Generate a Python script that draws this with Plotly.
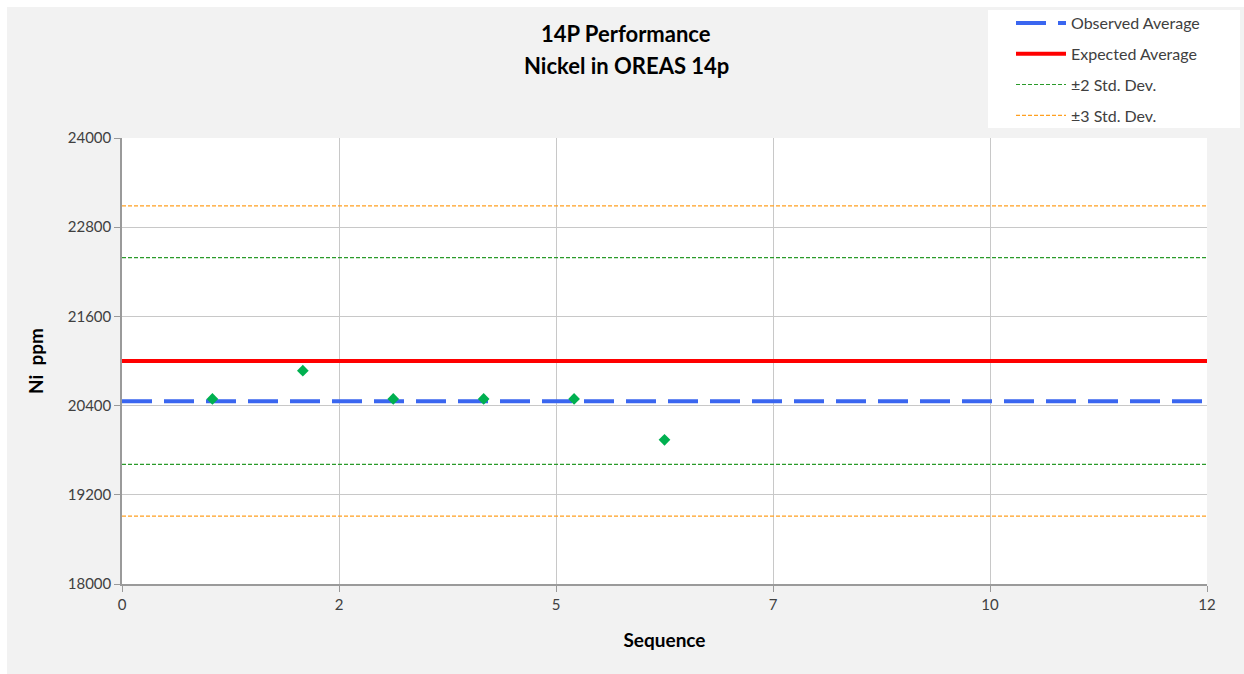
import plotly.graph_objects as go

# ---- data ----
sequence = [1, 2, 3, 4, 5, 6]
ni_ppm = [20490, 20870, 20490, 20490, 20490, 19940]
observed_average = 20460
expected_average = 21000
std_dev = 696
x_range = [0, 12]
x_tick_vals = [0, 2.4, 4.8, 7.2, 9.6, 12]
x_tick_text = ["0", "2", "5", "7", "10", "12"]
y_tick_vals = [18000, 19200, 20400, 21600, 22800, 24000]
title_lines = ["14P Performance", "Nickel in OREAS 14p"]

FONT = "Lato"
W, H = 1244, 674
L, R, T, B = 122, 37, 138, 90
pw, ph = W - L - R, H - T - B

def px_x(px):
    return (px - L) / pw

def px_y(py):
    return (H - B - py) / ph

fig = go.Figure()

fig.add_trace(go.Scatter(
    x=[x_range[0], x_range[1]], y=[observed_average, observed_average],
    mode="lines", name="Observed Average",
    line=dict(color="#3a66f0", width=4, dash="30px,12px"),
    legendgroup="a", hoverinfo="skip"))

fig.add_trace(go.Scatter(
    x=[x_range[0], x_range[1]], y=[expected_average, expected_average],
    mode="lines", name="Expected Average",
    line=dict(color="#ff0000", width=4),
    legendgroup="b", hoverinfo="skip"))

for k, name, color, grp in [(2, "±2 Std. Dev.", "#2a9a2a", "c"),
                            (3, "±3 Std. Dev.", "#ffa020", "d")]:
    for i, sign in enumerate([1, -1]):
        yv = expected_average + sign * k * std_dev
        fig.add_trace(go.Scatter(
            x=[x_range[0], x_range[1]], y=[yv, yv],
            mode="lines", name=name, showlegend=(i == 0),
            line=dict(color=color, width=1.2, dash="4px,2px"),
            legendgroup=grp, hoverinfo="skip"))

fig.add_trace(go.Scatter(
    x=sequence, y=ni_ppm, mode="markers", name="Ni",
    marker=dict(symbol="diamond", color="#00b050", size=9),
    showlegend=False, legendgroup="e"))

annotations = []
for line_text, ypix in zip(title_lines, [33, 66]):
    annotations.append(dict(
        text="<b>" + line_text + "</b>", xref="paper", yref="paper",
        x=px_x(626), y=px_y(ypix), xanchor="center", yanchor="middle",
        showarrow=False, font=dict(family=FONT, size=22, color="black")))

fig.update_layout(
    width=W, height=H,
    margin=dict(l=L, r=R, t=T, b=B, autoexpand=False),
    paper_bgcolor="white",
    plot_bgcolor="white",
    font=dict(family=FONT, size=14, color="#595959"),
    annotations=annotations,
    showlegend=True,
    legend=dict(
        x=px_x(1011), y=px_y(6), xanchor="left", yanchor="top",
        bgcolor="rgba(0,0,0,0)", borderwidth=0,
        font=dict(family=FONT, size=16, color="#404040"),
        tracegroupgap=7, itemwidth=50,
        traceorder="grouped"),
    shapes=[dict(type="rect", xref="paper", yref="paper",
                 x0=px_x(7), x1=px_x(W + 5), y0=px_y(H + 5), y1=px_y(7),
                 fillcolor="#f2f2f2", line=dict(width=0), layer="below"),
            dict(type="rect", xref="paper", yref="paper",
                 x0=0, x1=1, y0=0, y1=1,
                 fillcolor="white", line=dict(width=0), layer="below"),
            dict(type="rect", xref="paper", yref="paper",
                 x0=px_x(988), x1=px_x(1240), y0=px_y(128), y1=px_y(10),
                 fillcolor="white", line=dict(width=0), layer="below")],
)

fig.update_xaxes(
    range=x_range, tickmode="array", tickvals=x_tick_vals, ticktext=x_tick_text,
    showgrid=True, gridcolor="#c8c8c8", gridwidth=1,
    showline=True, linecolor="#9a9a9a", linewidth=1.5,
    ticks="outside", ticklen=6, tickcolor="#9a9a9a",
    zeroline=False,
    tickfont=dict(family=FONT, size=15, color="#404040"),
    title=dict(text="<b>Sequence</b>", standoff=22,
               font=dict(family=FONT, size=19, color="black")))

fig.update_yaxes(
    range=[18000, 24000], tickmode="array", tickvals=y_tick_vals,
    tickformat="d",
    showgrid=True, gridcolor="#c8c8c8", gridwidth=1,
    showline=True, linecolor="#9a9a9a", linewidth=1.5,
    ticks="outside", ticklen=6, tickcolor="#9a9a9a",
    zeroline=False,
    tickfont=dict(family=FONT, size=15, color="#404040"),
    title=dict(text="<b>Ni  ppm</b>", standoff=19,
               font=dict(family=FONT, size=19, color="black")))

fig.write_html("out.html")
